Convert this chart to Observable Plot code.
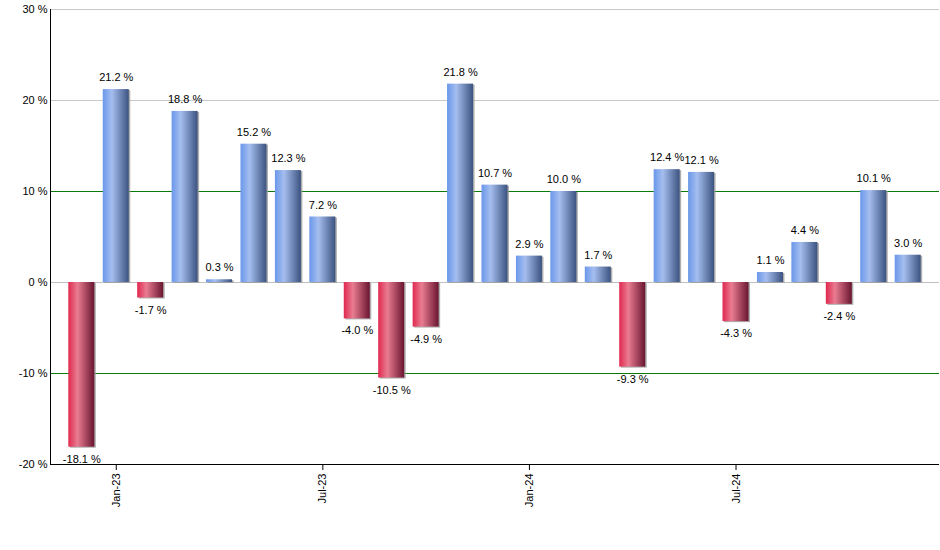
<!DOCTYPE html>
<html><head><meta charset="utf-8">
<script src="https://cdn.jsdelivr.net/npm/d3@7"></script>
<script src="https://cdn.jsdelivr.net/npm/@observablehq/plot@0.6"></script>
<style>body{margin:0;background:#fff;}</style>
</head><body><div id="chart"></div>
<script>
const months = ["2022-12","2023-01","2023-02","2023-03","2023-04","2023-05","2023-06","2023-07","2023-08","2023-09","2023-10","2023-11","2023-12","2024-01","2024-02","2024-03","2024-04","2024-05","2024-06","2024-07","2024-08","2024-09","2024-10","2024-11","2024-12"];
const returns = [-18.1,21.2,-1.7,18.8,0.3,15.2,12.3,7.2,-4.0,-10.5,-4.9,21.8,10.7,2.9,10.0,1.7,-9.3,12.4,12.1,-4.3,1.1,4.4,-2.4,10.1,3.0];
const yTicks = [-20,-10,0,10,20,30];
const lightGrid = [20,30];
const greenGrid = [-10,10];
const xTickMonths = ["2023-01","2023-07","2024-01","2024-07"];
const xTickLabels = ["Jan-23","Jul-23","Jan-24","Jul-24"];

const data = months.map((m,i)=>({m, v: returns[i]}));
const pos = data.filter(d=>d.v>=0);
const neg = data.filter(d=>d.v<0);
const fmt = d => d.v.toFixed(1) + " %";

function defsMark() {
  const defs = d3.create("svg:defs");
  const mk = (id, stops) => {
    const g = defs.append("linearGradient").attr("id", id).attr("x1","0").attr("x2","1").attr("y1","0").attr("y2","0");
    stops.forEach(([o,c]) => g.append("stop").attr("offset", o).attr("stop-color", c));
  };
  mk("gBlue", [["0%","#6a97ea"],["35%","#a5beef"],["100%","#3c5380"]]);
  mk("gRed", [["0%","#e0284f"],["35%","#e97c91"],["100%","#6a1530"]]);
  return defs.node();
}

const chart = Plot.plot({
  width: 940, height: 550,
  marginLeft: 50, marginRight: 1, marginTop: 9, marginBottom: 86,
  style: {fontFamily: "'Liberation Sans', Arial, sans-serif", fontSize: "11px", color: "#000", background: "#fff"},
  x: {type: "band", domain: months, paddingInner: 0.2446, paddingOuter: 0.532, round: false, label: null},
  y: {domain: [-20, 30], label: null},
  marks: [
    defsMark,
    Plot.ruleY(lightGrid, {stroke: "#c8c8c8"}),
    Plot.ruleY([0], {stroke: "#c0c0c0"}),
    Plot.ruleY(greenGrid, {stroke: "#0a7a0a"}),
    Plot.barY(data, {x: "m", y: "v", fill: "#9a9a9a", fillOpacity: 0.8, dx: 1.5, dy: 1}),
    Plot.barY(pos, {x: "m", y: "v", fill: "url(#gBlue)"}),
    Plot.barY(neg, {x: "m", y: "v", fill: "url(#gRed)"}),
    Plot.text(pos, {x: "m", y: "v", text: fmt, dy: -12, fill: "#000"}),
    Plot.text(neg, {x: "m", y: "v", text: fmt, dy: 12, fill: "#000"}),
    Plot.axisY({ticks: yTicks, tickFormat: d => d + " %", tickSize: 0, tickPadding: 3, fontSize: 11}),
    Plot.axisX({ticks: xTickMonths, tickFormat: d => xTickLabels[xTickMonths.indexOf(d)], tickRotate: -90, tickSize: 6, tickPadding: 3, fontSize: 11}),
    Plot.ruleY([-20], {stroke: "#000"}),
    Plot.frame({anchor: "left", stroke: "#000"})
  ]
});
document.getElementById("chart").appendChild(chart);
</script>
</body></html>
